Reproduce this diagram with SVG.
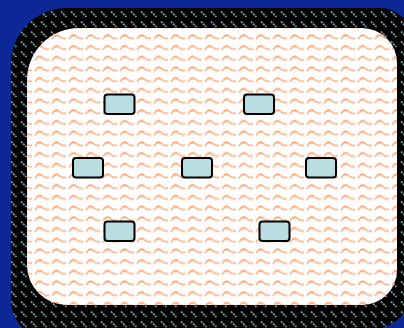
<svg xmlns="http://www.w3.org/2000/svg" width="404" height="328" viewBox="0 0 404 328">
<defs>
<pattern id="band" width="10" height="10" patternUnits="userSpaceOnUse">
<rect width="10" height="10" fill="#000"/>
<line x1="1" y1="1.5" x2="6.5" y2="7" stroke="#86a6a6" stroke-width="1.7" stroke-dasharray="2 1"/>
</pattern>
<pattern id="wave" width="17" height="10.7" patternUnits="userSpaceOnUse">
<rect width="17" height="10.7" fill="#fff"/>
<path d="M1,7 Q4.5,1.5 8.5,4.5 Q12,7.5 15,6" fill="none" stroke="#ffb890" stroke-width="1.8"/>
<path d="M3,4 Q5,2.3 7.5,3.3" fill="none" stroke="#ff9060" stroke-width="1.1" opacity="0.8"/>
</pattern>
<style>
.node rect{fill:#b9dde0;stroke:#000;stroke-width:2}
</style>
</defs>
<rect width="404" height="328" fill="#0b2896"/>
<g id="frame">
<path d="M67,8 L380,8 A32,32 0 0 1 412,40 L412,289 A40,40 0 0 1 372,329 L51,340 A40,40 0 0 1 11,300 L11,64 A56,56 0 0 1 67,8 Z" fill="url(#band)"/>
<path d="M79,28 L362,28 A35,35 0 0 1 397,63 L397,270 A35,35 0 0 1 362,305 L67,305 A40,40 0 0 1 27,265 L27,80 A52,52 0 0 1 79,28 Z" fill="url(#wave)"/>
</g>
<g id="connectors"></g>
<g id="nA" class="node"><rect x="104.5" y="94.5" width="30" height="19.5" rx="3"/></g>
<g id="nB" class="node"><rect x="244" y="94.5" width="30" height="19.5" rx="3"/></g>
<g id="nC" class="node"><rect x="73" y="158" width="30" height="19.5" rx="3"/></g>
<g id="nD" class="node"><rect x="182" y="158" width="30" height="19.5" rx="3"/></g>
<g id="nE" class="node"><rect x="306" y="158" width="30" height="19.5" rx="3"/></g>
<g id="nF" class="node"><rect x="104.5" y="221.5" width="30" height="19.5" rx="3"/></g>
<g id="nG" class="node"><rect x="259.5" y="221.5" width="30" height="19.5" rx="3"/></g>
</svg>
